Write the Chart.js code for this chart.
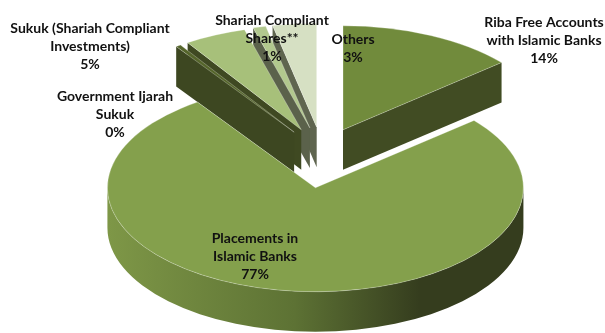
<!DOCTYPE html>
<html>
<head>
<meta charset="utf-8">
<script src="https://cdn.jsdelivr.net/npm/chart.js@4.4.1/dist/chart.umd.min.js"></script>
<style>
  html, body { margin: 0; padding: 0; background: #fff; }
</style>
</head>
<body>
<canvas id="pieChart" width="605" height="333"></canvas>
<script>
// categories (multi-line, as in the picture)
const categories = [
  ["Riba Free Accounts", "with Islamic Banks"],
  ["Placements in", "Islamic Banks"],
  ["Government Ijarah", "Sukuk"],
  ["Sukuk (Shariah Compliant", "Investments)"],
  ["Shariah Compliant", "Shares**"],
  ["Others"]
];
// share of each category, in %
const shares = [13.8, 76.6, 0.4, 4.8, 1.0, 3.4];

// colours of the top faces and of the cut sides
const topColors  = ["#718b3c", "#84a04c", "#55652b", "#a7c07a", "#b2c88e", "#d6e0c3"];
const sideColors = ["#414c23", "#353d1e", "#3d4721", "#3f4922", "#5b624b", "#5f654f"];
const wallLeft   = ["#5f7633", "#7e9747", "#4b5a29", "#6a7f3a", "#7a8466", "#80866e"];

// look of the fake 3d
const TILT = 0.5;          // how much the disc is squashed
const TILT_EXPLODE = 0.61;
const EXPLODE = 50;        // how far each slice is pulled out
const DEPTH = 40;          // thickness of the disc

// where the labels go (centre of the first line)
const labelPos = [[544, 22], [255, 238], [115, 96], [90, 28], [272, 20], [353, 39]];
const LINE_H = 18;

function drawSlice(ctx, s) {
  const rx = s.r, ry = s.r * TILT;

  // flat cut side of the slice, from the apex to the rim
  function face(a) {
    const x = s.ex + Math.cos(a) * rx;
    const y = s.ey + Math.sin(a) * ry;
    ctx.beginPath();
    ctx.moveTo(s.ex, s.ey);
    ctx.lineTo(x, y);
    ctx.lineTo(x, y + DEPTH);
    ctx.lineTo(s.ex, s.ey + DEPTH);
    ctx.closePath();
    ctx.fillStyle = sideColors[s.i];
    ctx.fill();
  }
  if (Math.cos(s.a0) < 0) face(s.a0);
  if (Math.cos(s.a1) > 0) face(s.a1);

  // round outer wall, only the part that faces us
  const b0 = Math.max(s.a0, 0);
  const b1 = Math.min(s.a1, Math.PI);
  if (b1 > b0) {
    ctx.beginPath();
    ctx.ellipse(s.ex, s.ey, rx, ry, 0, b0, b1);
    ctx.ellipse(s.ex, s.ey + DEPTH, rx, ry, 0, b1, b0, true);
    ctx.closePath();
    const g = ctx.createLinearGradient(s.ex - rx, 0, s.ex + rx, 0);
    g.addColorStop(0, wallLeft[s.i]);
    g.addColorStop(0.45, "#5d7234");
    g.addColorStop(0.75, sideColors[s.i]);
    g.addColorStop(1, sideColors[s.i]);
    ctx.fillStyle = g;
    ctx.fill();
  }

  // top face
  ctx.beginPath();
  ctx.moveTo(s.ex, s.ey);
  ctx.ellipse(s.ex, s.ey, rx, ry, 0, s.a0, s.a1);
  ctx.closePath();
  ctx.fillStyle = topColors[s.i];
  ctx.fill();
  ctx.strokeStyle = "rgba(255,255,255,0.35)";
  ctx.lineWidth = 0.8;
  ctx.stroke();
}

const pie3d = {
  id: "pie3d",
  beforeDatasetsDraw(chart) {
    const ctx = chart.ctx;
    const arcs = chart.getDatasetMeta(0).data;
    const slices = arcs.map((arc, i) => {
      const p = arc.getProps(["x", "y", "startAngle", "endAngle", "outerRadius"], true);
      const mid = (p.startAngle + p.endAngle) / 2;
      return {
        i: i,
        a0: p.startAngle,
        a1: p.endAngle,
        r: p.outerRadius,
        ex: p.x + Math.cos(mid) * EXPLODE,
        ey: p.y + Math.sin(mid) * EXPLODE * TILT_EXPLODE
      };
    });
    // back slices first
    slices.sort((a, b) => a.ey - b.ey);
    ctx.save();
    slices.forEach(s => drawSlice(ctx, s));
    ctx.restore();
    return false; // we drew the arcs ourselves
  },
  afterDraw(chart) {
    const ctx = chart.ctx;
    const data = chart.data.datasets[0].data;
    const total = data.reduce((a, b) => a + b, 0);
    ctx.save();
    ctx.font = "bold 14px Lato";
    ctx.fillStyle = "#111";
    ctx.textAlign = "center";
    ctx.textBaseline = "middle";
    chart.data.labels.forEach((lines, i) => {
      const pct = Math.round(data[i] / total * 100) + "%";
      const all = lines.concat([pct]);
      const [x, y] = labelPos[i];
      all.forEach((t, k) => ctx.fillText(t, x, y + k * LINE_H));
    });
    ctx.restore();
  }
};

new Chart(document.getElementById("pieChart"), {
  type: "pie",
  data: {
    labels: categories,
    datasets: [{
      data: shares,
      backgroundColor: topColors,
      borderWidth: 0
    }]
  },
  options: {
    responsive: false,
    animation: false,
    radius: 208,
    layout: { padding: { left: 39, bottom: 18 } },
    plugins: {
      legend: { display: false },
      tooltip: { enabled: false }
    }
  },
  plugins: [pie3d]
});
</script>
</body>
</html>
